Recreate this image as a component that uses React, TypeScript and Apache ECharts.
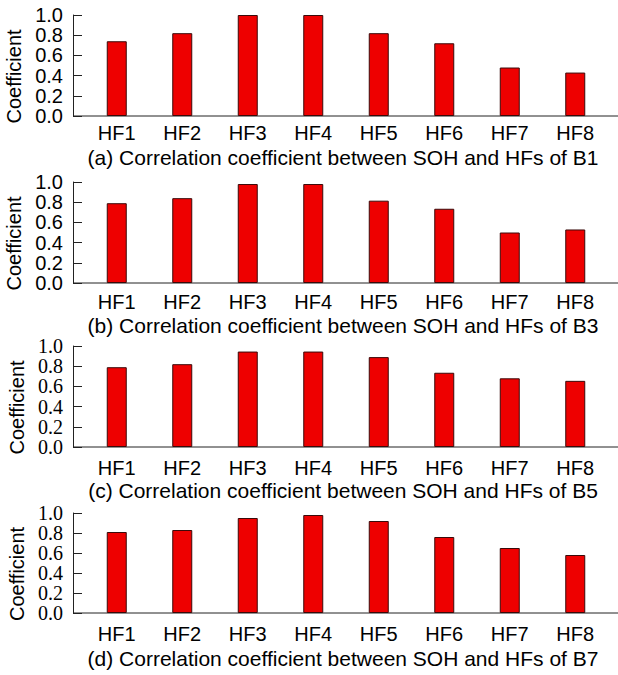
import React, { useEffect, useRef } from "react";
import * as echarts from "echarts";

const categories = ["HF1", "HF2", "HF3", "HF4", "HF5", "HF6", "HF7", "HF8"];
const valuesB1 = [0.74, 0.82, 1.0, 1.0, 0.82, 0.72, 0.48, 0.43];
const valuesB3 = [0.79, 0.84, 0.98, 0.98, 0.815, 0.735, 0.5, 0.53];
const valuesB5 = [0.79, 0.82, 0.945, 0.945, 0.89, 0.735, 0.68, 0.655];
const valuesB7 = [0.81, 0.83, 0.95, 0.98, 0.92, 0.76, 0.65, 0.58];
const captions = [
  "(a) Correlation coefficient between SOH and HFs of B1",
  "(b) Correlation coefficient between SOH and HFs of B3",
  "(c) Correlation coefficient between SOH and HFs of B5",
  "(d) Correlation coefficient between SOH and HFs of B7",
];
const yAxisName = "Coefficient";
const yMin = 0;
const yMax = 1.0;
const yInterval = 0.2;

const allValues = [valuesB1, valuesB3, valuesB5, valuesB7];

// layout
const panelTops = [15, 182, 346, 513];
const panelHeights = [101, 101, 101, 100];
const tickFonts = ["Liberation Sans", "Liberation Sans", "Liberation Serif", "Liberation Serif"];
const xLabelMargins = [7, 9, 11, 11];
const captionCenters = [157, 325, 490, 658];
const gridLeft = 84;
const gridRight = 10;
const axisLeftX = 73;
const W = 618;
const H = 675;

export default function App() {
  const ref = useRef<HTMLDivElement>(null);
  useEffect(() => {
    document.body.style.margin = "0";
    if (!ref.current) return;
    const chart = echarts.init(ref.current, undefined, { renderer: "svg" });
    const sans = "Liberation Sans";
    const grids = panelTops.map((t, i) => ({
      left: gridLeft,
      right: gridRight,
      top: t,
      height: panelHeights[i],
      containLabel: false,
      outerBoundsMode: "none",
    }));
    const xAxes = panelTops.map((_, i) => ({
      type: "category",
      gridIndex: i,
      data: categories,
      axisLine: { show: false },
      axisTick: { show: false },
      axisLabel: {
        color: "#000",
        fontFamily: sans,
        fontSize: 20,
        margin: xLabelMargins[i],
      },
    }));
    const yAxes = panelTops.map((_, i) => ({
      type: "value",
      gridIndex: i,
      min: yMin,
      max: yMax,
      interval: yInterval,
      offset: gridLeft - axisLeftX,
      name: yAxisName,
      nameLocation: "middle",
      nameGap: 46,
      nameTextStyle: {
        color: "#000",
        fontFamily: sans,
        fontSize: 20,
        padding: [0, 22, 0, 0],
      },
      axisLine: { show: true, lineStyle: { color: "#222", width: 1 } },
      axisTick: { show: true, inside: true, length: 9, lineStyle: { color: "#222" } },
      splitLine: { show: false },
      axisLabel: {
        color: "#000",
        fontFamily: tickFonts[i],
        fontSize: 20,
        margin: 10,
        showMinLabel: true,
        showMaxLabel: true,
        formatter: (v: number) => v.toFixed(1),
      },
    }));
    const series = allValues.map((vals, i) => ({
      type: "bar",
      xAxisIndex: i,
      yAxisIndex: i,
      data: vals,
      barWidth: 20,
      itemStyle: { color: "#ee0000", borderColor: "#3a0a0a", borderWidth: 1 },
    }));
    const graphics: any[] = [];
    panelTops.forEach((t, i) => {
      const y0 = t + panelHeights[i];
      graphics.push({
        type: "line",
        shape: { x1: axisLeftX, y1: y0, x2: W, y2: y0 },
        style: { stroke: "#222", lineWidth: 1 },
      });
      graphics.push({
        type: "text",
        x: 343,
        y: captionCenters[i],
        style: {
          text: captions[i],
          fill: "#000",
          font: "21px Liberation Sans",
          textAlign: "center",
          textVerticalAlign: "middle",
        },
      });
    });
    chart.setOption({
      animation: false,
      backgroundColor: "#fff",
      grid: grids,
      xAxis: xAxes,
      yAxis: yAxes,
      series,
      graphic: graphics,
    });
    return () => chart.dispose();
  }, []);
  return <div ref={ref} style={{ width: W, height: H }} />;
}
